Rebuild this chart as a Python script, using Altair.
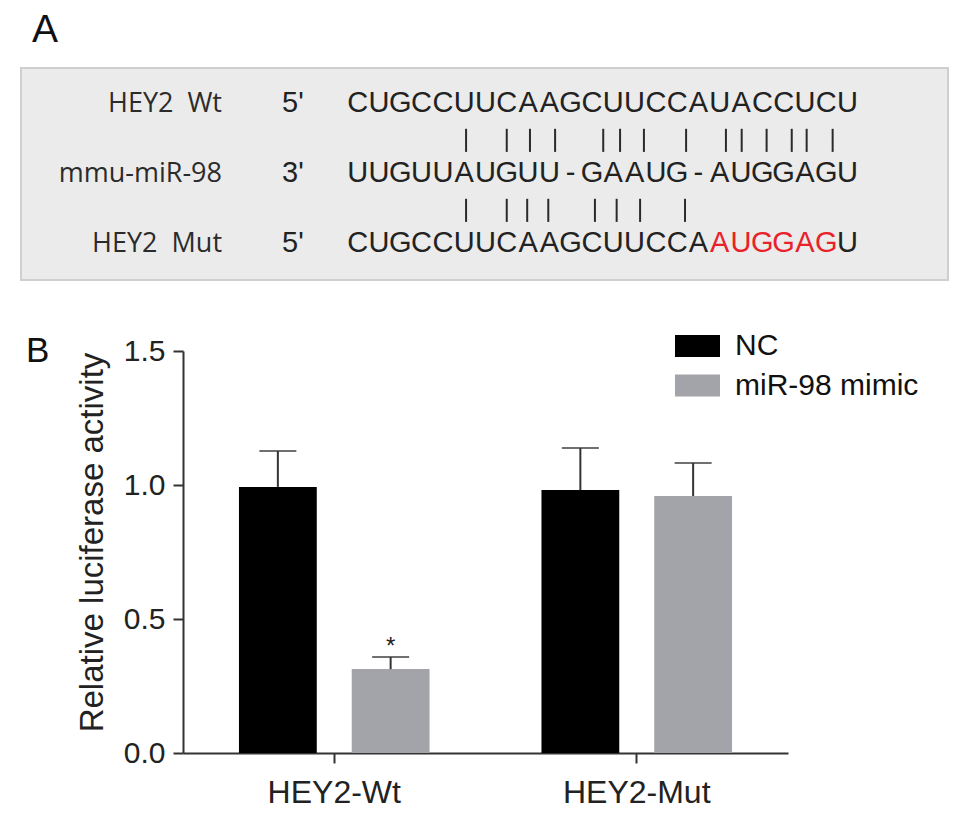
import altair as alt
import pandas as pd

FONT = "Liberation Sans"
NB = "\u00a0"

# ---------------- Panel A: sequence alignment ----------------
rows = [0, 1, 2]
row_names = ["HEY2" + NB + " Wt", "mmu-miR-98", "HEY2" + NB + " Mut"]
row_ends = ["5'", "3'", "5'"]
sequences = [
    "CUGCCUUCAAGCUUCCAUACCUCU",
    "UUGUUAUGUU-GAAUG-AUGGAGU",
    "CUGCCUUCAAGCUUCCAAUGGAGU",
]
mutated_positions = [17, 18, 19, 20, 21, 22]
# pairing bars (alignment units), between row 0/1 and row 1/2
pairs_top = [5.59, 7.50, 8.59, 9.77, 12.03, 12.82, 13.94, 15.92, 17.79, 18.53, 19.70, 20.88, 21.58, 22.80]
pairs_bottom = [5.59, 7.50, 8.46, 9.45, 11.64, 12.66, 13.76, 15.87]

# ---------------- Panel B: luciferase assay ----------------
constructs = ["HEY2-Wt", "HEY2-Mut"]
groups = ["NC", "miR-98 mimic"]
nc_values = [0.993, 0.981]
nc_sd = [0.134, 0.157]
mimic_values = [0.313, 0.959]
mimic_sd = [0.045, 0.123]
nc_sig = ["", ""]
mimic_sig = ["*", ""]
colors = ["#000000", "#a3a3aa"]

# ---------- build tables ----------
chars = []
for r, seq in zip(rows, sequences):
    for i, ch in enumerate(seq):
        chars.append({"row": r, "pos": i + 0.5, "ch": ch,
                      "mut": bool(r == 2 and i in mutated_positions)})
chars_df = pd.DataFrame(chars)

labels_df = pd.DataFrame({"row": rows, "name": row_names, "end": row_ends})

pairs_df = pd.DataFrame(
    [{"pos": p, "after": 0} for p in pairs_top]
    + [{"pos": p, "after": 1} for p in pairs_bottom]
)

# panel A geometry (alignment units)
A_W, A_H = 765, 212
STEP = 21.3
X0 = 164.0  # pixel offset of alignment position 0 from panel origin
XD = [-X0 / STEP, (A_W - X0) / STEP]
ROW_GAP = 70.0
Y0 = 44.0
YD = [-Y0 / ROW_GAP, (A_H - Y0) / ROW_GAP]
xA = alt.Scale(domain=XD, nice=False, zero=False)
yA = alt.Scale(domain=YD, nice=False, zero=False, reverse=True)
LABEL_RIGHT = (222 - 347) / STEP
END_LEFT = (282 - 347) / STEP

one = pd.DataFrame({"k": [0]})

frame = alt.Chart(one).mark_rect(fill="#ebebeb", stroke="#cfcfcf", strokeWidth=2).encode(
    x=alt.value(-162), x2=alt.value(A_W), y=alt.value(0), y2=alt.value(A_H)
)
a_label = alt.Chart(one).mark_text(text="A", font=FONT, fontSize=39, align="left",
                                   baseline="alphabetic", color="#111").encode(
    x=alt.value(-151), y=alt.value(-26)
)
names = alt.Chart(labels_df).mark_text(font="Open Sans", fontSize=27, align="right",
                                        baseline="alphabetic", color="#2b2b2b").encode(
    x=alt.X(datum=LABEL_RIGHT, scale=xA, axis=None),
    y=alt.Y("row:Q", scale=yA, axis=None),
    text="name:N",
)
ends = alt.Chart(labels_df).mark_text(font=FONT, fontSize=29, align="left",
                                       baseline="alphabetic", color="#222").encode(
    x=alt.X(datum=END_LEFT, scale=xA, axis=None),
    y=alt.Y("row:Q", scale=yA, axis=None),
    text="end:N",
)
seq_text = alt.Chart(chars_df).mark_text(font=FONT, fontSize=29, align="center",
                                          baseline="alphabetic").encode(
    x=alt.X("pos:Q", scale=xA, axis=None),
    y=alt.Y("row:Q", scale=yA, axis=None),
    text="ch:N",
    color=alt.condition("datum.mut", alt.value("#e8212b"), alt.value("#222222")),
)
pair_bars = alt.Chart(pairs_df).transform_calculate(
    y1="datum.after + 0.24", y2="datum.after + 0.57"
).mark_rule(color="#2a2a2a", strokeWidth=2).encode(
    x=alt.X("pos:Q", scale=xA, axis=None),
    y=alt.Y("y1:Q", scale=yA, axis=None),
    y2="y2:Q",
)
panelA = alt.layer(frame, a_label, names, ends, pair_bars, seq_text).properties(
    width=A_W, height=A_H
)

# ---------- panel B ----------
df = pd.DataFrame({
    "construct": constructs * 2,
    "group": [groups[0]] * 2 + [groups[1]] * 2,
    "value": nc_values + mimic_values,
    "sd": nc_sd + mimic_sd,
    "sig": nc_sig + mimic_sig,
})

base = alt.Chart(df).transform_calculate(upper="datum.value + datum.sd")

xB = alt.X("construct:N", sort=constructs, title=None,
           scale=alt.Scale(paddingInner=0.37, paddingOuter=0.185),
           axis=alt.Axis(labelAngle=0, labelFont=FONT, labelFontSize=32, labelColor="#222",
                         labelPadding=14, labelLimit=400, tickSize=10, tickWidth=2,
                         tickColor="#333", domainColor="#333", domainWidth=2, grid=False))
xoB = alt.XOffset("group:N", sort=groups, scale=alt.Scale(paddingInner=0.31, paddingOuter=0))
yScale = alt.Scale(domain=[0, 1.5], nice=False, zero=True)
yB = alt.Y("value:Q", scale=yScale,
           axis=alt.Axis(values=[0, 0.5, 1.0, 1.5], format=".1f", grid=False,
                         domainColor="#333", domainWidth=2, tickColor="#333", tickWidth=2,
                         tickSize=10, labelFont=FONT, labelFontSize=30, labelColor="#222",
                         labelPadding=8, title="Relative luciferase activity",
                         titleFont=FONT, titleFontSize=33, titleFontWeight="normal",
                         titleColor="#222", titleX=-81, titleY=191,
                         titleBaseline="alphabetic", titleAngle=-90))

bars = base.mark_bar().encode(
    x=xB, xOffset=xoB, y=yB,
    color=alt.Color("group:N", sort=groups,
                    scale=alt.Scale(domain=groups, range=colors),
                    legend=alt.Legend(orient="none", legendX=492, legendY=255.5, title=None,
                                      symbolType="M-1,-0.489L1,-0.489L1,0.489L-1,0.489Z",
                                      symbolSize=2025, symbolStrokeWidth=0,
                                      labelFont=FONT, labelFontSize=30, labelColor="#111",
                                      labelOffset=15, labelLimit=400, rowPadding=1.5,
                                      padding=0)),
)
err = base.mark_rule(color="#333", strokeWidth=2).encode(
    x=xB, xOffset=xoB, y=alt.Y("value:Q", scale=yScale), y2="upper:Q"
)
caps = base.mark_tick(color="#333", size=37, thickness=2).encode(
    x=xB, xOffset=xoB, y=alt.Y("upper:Q", scale=yScale)
)
stars = base.mark_text(font=FONT, fontSize=24, dy=-3, baseline="alphabetic",
                       color="#222").encode(
    x=xB, xOffset=xoB, y=alt.Y("upper:Q", scale=yScale), text="sig:N"
)
b_label = alt.Chart(one).mark_text(text="B", font=FONT, fontSize=35, align="left",
                                   baseline="alphabetic", color="#111").encode(
    x=alt.value(-157), y=alt.value(11)
)
panelB = alt.layer(bars, err, caps, stars, b_label).properties(width=605, height=402)

chart = alt.vconcat(panelA, panelB, spacing=53).properties(
    padding={"left": 12, "top": 3, "right": 5, "bottom": 5}
).configure_view(stroke=None)

chart.save("out.html", embed_options={"renderer": "svg", "actions": False})
